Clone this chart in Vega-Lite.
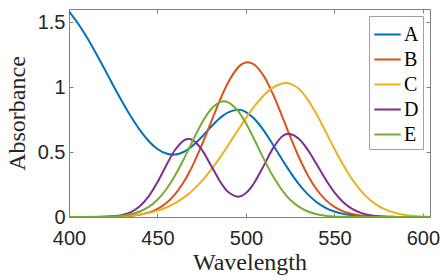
{
  "$schema": "https://vega.github.io/schema/vega-lite/v6.json",
  "width": 361,
  "height": 208,
  "autosize": {"type": "none"},
  "padding": {"left": 69, "top": 9, "right": 15, "bottom": 62},
  "data": {
    "values": [
      {"w": 400, "A": 1.581, "B": 0, "C": 0.0002, "D": 0, "E": 0},
      {"w": 405, "A": 1.49, "B": 0, "C": 0.0003, "D": 0, "E": 0},
      {"w": 410, "A": 1.384, "B": 0, "C": 0.0007, "D": 0, "E": 0},
      {"w": 415, "A": 1.265, "B": 0.0003, "C": 0.0013, "D": 0.0004, "E": 0.0007},
      {"w": 420, "A": 1.14, "B": 0.0007, "C": 0.0024, "D": 0.0016, "E": 0.0019},
      {"w": 425, "A": 1.012, "B": 0.0017, "C": 0.0043, "D": 0.0052, "E": 0.0045},
      {"w": 430, "A": 0.889, "B": 0.0039, "C": 0.0074, "D": 0.0148, "E": 0.0102},
      {"w": 435, "A": 0.773, "B": 0.0084, "C": 0.0123, "D": 0.0373, "E": 0.0215},
      {"w": 440, "A": 0.67, "B": 0.0174, "C": 0.0201, "D": 0.082, "E": 0.0422},
      {"w": 445, "A": 0.585, "B": 0.0337, "C": 0.0318, "D": 0.1584, "E": 0.0775},
      {"w": 450, "A": 0.523, "B": 0.0619, "C": 0.049, "D": 0.268, "E": 0.1331},
      {"w": 455, "A": 0.488, "B": 0.1075, "C": 0.0733, "D": 0.3977, "E": 0.2135},
      {"w": 460, "A": 0.48, "B": 0.1761, "C": 0.1066, "D": 0.5174, "E": 0.3203},
      {"w": 465, "A": 0.502, "B": 0.2729, "C": 0.1507, "D": 0.5902, "E": 0.4491},
      {"w": 467.5, "A": 0.524, "B": 0.3325, "C": 0.177, "D": 0.6, "E": 0.518},
      {"w": 470, "A": 0.55, "B": 0.3993, "C": 0.2069, "D": 0.5906, "E": 0.5884},
      {"w": 475, "A": 0.615, "B": 0.5521, "C": 0.276, "D": 0.5188, "E": 0.7206},
      {"w": 480, "A": 0.69, "B": 0.721, "C": 0.3581, "D": 0.4023, "E": 0.8249},
      {"w": 485, "A": 0.758, "B": 0.8896, "C": 0.4513, "D": 0.2812, "E": 0.8825},
      {"w": 487.5, "A": 0.784, "B": 0.967, "C": 0.501, "D": 0.231, "E": 0.89},
      {"w": 490, "A": 0.805, "B": 1.0371, "C": 0.5528, "D": 0.1919, "E": 0.8825},
      {"w": 495, "A": 0.824, "B": 1.1423, "C": 0.6581, "D": 0.1569, "E": 0.8249},
      {"w": 497.5, "A": 0.822, "B": 1.1735, "C": 0.71, "D": 0.163, "E": 0.7775},
      {"w": 500, "A": 0.806, "B": 1.1886, "C": 0.7613, "D": 0.1846, "E": 0.7206},
      {"w": 502.5, "A": 0.781, "B": 1.187, "C": 0.81, "D": 0.221, "E": 0.6567},
      {"w": 505, "A": 0.752, "B": 1.1686, "C": 0.8559, "D": 0.2696, "E": 0.5884},
      {"w": 510, "A": 0.666, "B": 1.0854, "C": 0.9351, "D": 0.3934, "E": 0.4491},
      {"w": 515, "A": 0.562, "B": 0.9524, "C": 0.9931, "D": 0.5221, "E": 0.3203},
      {"w": 520, "A": 0.452, "B": 0.7896, "C": 1.0247, "D": 0.6144, "E": 0.2135},
      {"w": 522.5, "A": 0.398, "B": 0.704, "C": 1.03, "D": 0.636, "E": 0.17},
      {"w": 525, "A": 0.346, "B": 0.6184, "C": 1.0262, "D": 0.6389, "E": 0.1331},
      {"w": 530, "A": 0.251, "B": 0.4577, "C": 0.9843, "D": 0.6, "E": 0.0775},
      {"w": 535, "A": 0.174, "B": 0.3199, "C": 0.9015, "D": 0.5151, "E": 0.0422},
      {"w": 540, "A": 0.114, "B": 0.2113, "C": 0.7882, "D": 0.4042, "E": 0.0215},
      {"w": 545, "A": 0.071, "B": 0.1319, "C": 0.658, "D": 0.29, "E": 0.0102},
      {"w": 550, "A": 0.042, "B": 0.0777, "C": 0.5245, "D": 0.1901, "E": 0.0045},
      {"w": 555, "A": 0.024, "B": 0.0433, "C": 0.3991, "D": 0.114, "E": 0.0019},
      {"w": 560, "A": 0.013, "B": 0.0228, "C": 0.29, "D": 0.0625, "E": 0.0007},
      {"w": 565, "A": 0.0065, "B": 0.0113, "C": 0.2012, "D": 0.0313, "E": 0.0002},
      {"w": 570, "A": 0.003, "B": 0.0053, "C": 0.1332, "D": 0.0143, "E": 0},
      {"w": 575, "A": 0.0015, "B": 0.0024, "C": 0.0842, "D": 0.006, "E": 0},
      {"w": 580, "A": 0.0006, "B": 0.001, "C": 0.0509, "D": 0.0023, "E": 0},
      {"w": 585, "A": 0, "B": 0.0004, "C": 0.0293, "D": 0.0008, "E": 0},
      {"w": 590, "A": 0, "B": 0, "C": 0.0161, "D": 0, "E": 0},
      {"w": 595, "A": 0, "B": 0, "C": 0.0085, "D": 0, "E": 0},
      {"w": 600, "A": 0, "B": 0, "C": 0.0043, "D": 0, "E": 0},
      {"w": 605, "A": 0, "B": 0, "C": 0.002, "D": 0, "E": 0}
    ]
  },
  "transform": [{"fold": ["A", "B", "C", "D", "E"], "as": ["series", "absorbance"]}],
  "layer": [
    {
      "mark": {"type": "line", "strokeWidth": 2, "clip": true, "interpolate": "catmull-rom"},
      "encoding": {
        "x": {
          "field": "w", "type": "quantitative",
          "scale": {"domain": [400, 604], "nice": false, "zero": false},
          "axis": {"orient": "bottom", "values": [400, 450, 500, 550, 600], "labelFlush": false, "labelPadding": 15, "title": "Wavelength", "titlePadding": 2}
        },
        "y": {
          "field": "absorbance", "type": "quantitative",
          "scale": {"domain": [0, 1.6], "nice": false},
          "axis": {"orient": "left", "values": [0, 0.5, 1, 1.5], "format": ".1~f", "labelFlush": false, "title": "Absorbance", "titlePadding": 8}
        },
        "color": {
          "field": "series", "type": "nominal",
          "scale": {"domain": ["A", "B", "C", "D", "E"], "range": ["#0072BD", "#D95319", "#EDB120", "#7E2F8E", "#77AC30"]},
          "legend": {
            "orient": "top-right", "offset": 7, "title": null,
            "symbolType": "stroke", "symbolSize": 700, "symbolStrokeWidth": 2,
            "labelFont": "Liberation Serif", "labelFontSize": 20, "labelColor": "#000000",
            "strokeColor": "#a0a0a0", "fillColor": "#ffffff", "padding": 4, "rowPadding": 0, "labelOffset": 2
          }
        }
      }
    },
    {
      "mark": {"type": "line", "opacity": 0, "clip": true},
      "encoding": {
        "x": {
          "field": "w", "type": "quantitative",
          "axis": {"orient": "top", "values": [400, 450, 500, 550, 600], "labels": false, "title": null}
        },
        "y": {
          "field": "absorbance", "type": "quantitative",
          "axis": {"orient": "right", "values": [0, 0.5, 1, 1.5], "labels": false, "title": null}
        }
      }
    }
  ],
  "resolve": {"axis": {"x": "independent", "y": "independent"}},
  "config": {
    "view": {"stroke": null},
    "axis": {
      "grid": false,
      "domainColor": "#808080", "domainWidth": 1,
      "tickColor": "#808080", "tickWidth": 1, "tickSize": -4,
      "labelFont": "Liberation Sans", "labelFontSize": 20, "labelColor": "#262626",
      "labelPadding": 8,
      "titleFont": "Liberation Serif", "titleFontSize": 24, "titleFontWeight": "normal", "titleColor": "#262626"
    }
  }
}
